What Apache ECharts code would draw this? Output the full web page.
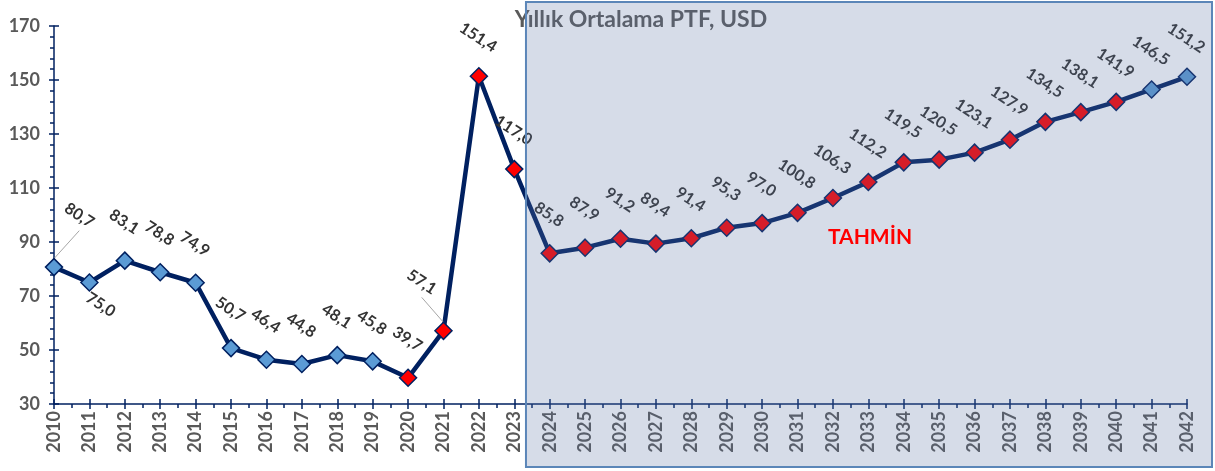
<!DOCTYPE html>
<html><head><meta charset="utf-8">
<script src="https://cdn.jsdelivr.net/npm/echarts@6/dist/echarts.min.js"></script>
<style>html,body{margin:0;padding:0;background:#fff}#c{width:1215px;height:471px}</style>
</head><body><div id="c"></div>
<script>
// ---- data ----
const years = [2010,2011,2012,2013,2014,2015,2016,2017,2018,2019,2020,2021,2022,2023,2024,2025,2026,2027,2028,2029,2030,2031,2032,2033,2034,2035,2036,2037,2038,2039,2040,2041,2042];
const values = [80.7,75.0,83.1,78.8,74.9,50.7,46.4,44.8,48.1,45.8,39.7,57.1,151.4,117.0,85.8,87.9,91.2,89.4,91.4,95.3,97.0,100.8,106.3,112.2,119.5,120.5,123.1,127.9,134.5,138.1,141.9,146.5,151.2];
const redYears = [2020,2021,2022,2023,2024,2025,2026,2027,2028,2029,2030,2031,2032,2033,2034,2035,2036,2037,2038,2039,2040];
const yTicks = [30,50,70,90,110,130,150,170];
const titleText = 'Yıllık Ortalama PTF, USD';
const forecastText = 'TAHMİN';
const forecastStart = 2023.33;

// ---- layout / style ----
const SYM = 17;
const labelOffsets = {2010:[26,-51], 2011:[12,23], 2021:[-21,-48]};
const leaderYears = [2010, 2021];
const NAVY = '#002060';
const fmt = v => v.toFixed(1).replace('.', ',');

const data = years.map((y, i) => {
  const off = labelOffsets[y] || [0, -38];
  const item = {
    value: [y, values[i]],
    itemStyle: { color: redYears.includes(y) ? '#ff0000' : '#5b9bd5' },
    label: { position: [SYM / 2 + off[0], SYM / 2 + off[1]] }
  };
  if (leaderYears.includes(y)) item.labelLine = { show: true, lineStyle: { color: '#a6a6a6', width: 1 } };
  return item;
});

const axLabel = { fontFamily: 'Lato', fontWeight: 'bold', fontSize: 18, color: '#595959' };
const chart = echarts.init(document.getElementById('c'), null, { renderer: 'canvas' });
const option = {
  animation: false,
  backgroundColor: '#fff',
  grid: { left: 54, right: 28, top: 26, bottom: 67, containLabel: false },
  xAxis: [{
    type: 'value', min: years[0], max: years[years.length - 1], interval: 1,
    axisLine: { show: true, lineStyle: { color: NAVY, width: 1.5 } },
    axisTick: { show: true, inside: false, length: 5, lineStyle: { color: NAVY, width: 1.5 } },
    minorTick: { show: true, splitNumber: 2, length: 4, lineStyle: { color: NAVY, width: 1.5 } },
    splitLine: { show: false },
    axisLabel: Object.assign({ rotate: 90, margin: 7, formatter: v => String(v) }, axLabel)
  }, {
    type: 'value', min: years[0], max: years[years.length - 1], interval: 1, position: 'bottom',
    axisLine: { show: false }, axisLabel: { show: false }, splitLine: { show: false },
    axisTick: { show: true, inside: true, length: 5, lineStyle: { color: NAVY, width: 1.5 } }
  }],
  yAxis: [{
    type: 'value', min: yTicks[0], max: yTicks[yTicks.length - 1], interval: 20,
    axisLine: { show: true, lineStyle: { color: NAVY, width: 1.5 } },
    axisTick: { show: true, inside: false, length: 5, lineStyle: { color: NAVY, width: 1.5 } },
    minorTick: { show: true, splitNumber: 5, length: 4, lineStyle: { color: NAVY, width: 1.5 } },
    splitLine: { show: false },
    axisLabel: Object.assign({ margin: 14 }, axLabel)
  }, {
    type: 'value', min: yTicks[0], max: yTicks[yTicks.length - 1], interval: 20, position: 'left',
    axisLine: { show: false }, axisLabel: { show: false }, splitLine: { show: false },
    axisTick: { show: true, inside: true, length: 5, lineStyle: { color: NAVY, width: 1.5 } }
  }],
  series: [{
    type: 'line', data: data, z: 3,
    symbol: 'diamond', symbolSize: SYM,
    lineStyle: { color: NAVY, width: 4.5 },
    itemStyle: { borderColor: NAVY, borderWidth: 1.5 },
    label: { show: true, formatter: p => fmt(p.value[1]), rotate: -33, align: 'center', verticalAlign: 'middle',
             color: '#333333', fontFamily: 'Lato', fontWeight: 'bold', fontSize: 16 },
    labelLine: { show: false },
    emphasis: { disabled: true }
  }]
};
chart.setOption(option);
const xl = chart.convertToPixel({ xAxisIndex: 0 }, forecastStart);
chart.setOption({
  graphic: [
    { type: 'text', z: 90, style: { text: titleText, x: 641, y: 20, align: 'center', verticalAlign: 'middle',
      fill: '#5a5a5a', font: 'bold 23px Lato' } },
    { type: 'rect', z: 100, shape: { x: xl, y: 2, width: 1212 - xl, height: 465 },
      style: { fill: 'rgba(91,115,163,0.25)', stroke: '#5b86b8', lineWidth: 2 } },
    { type: 'text', z: 110, style: { text: forecastText, x: 870, y: 237, align: 'center', verticalAlign: 'middle',
      fill: '#ff0000', font: 'bold 21px Lato' } }
  ]
});
</script></body></html>
